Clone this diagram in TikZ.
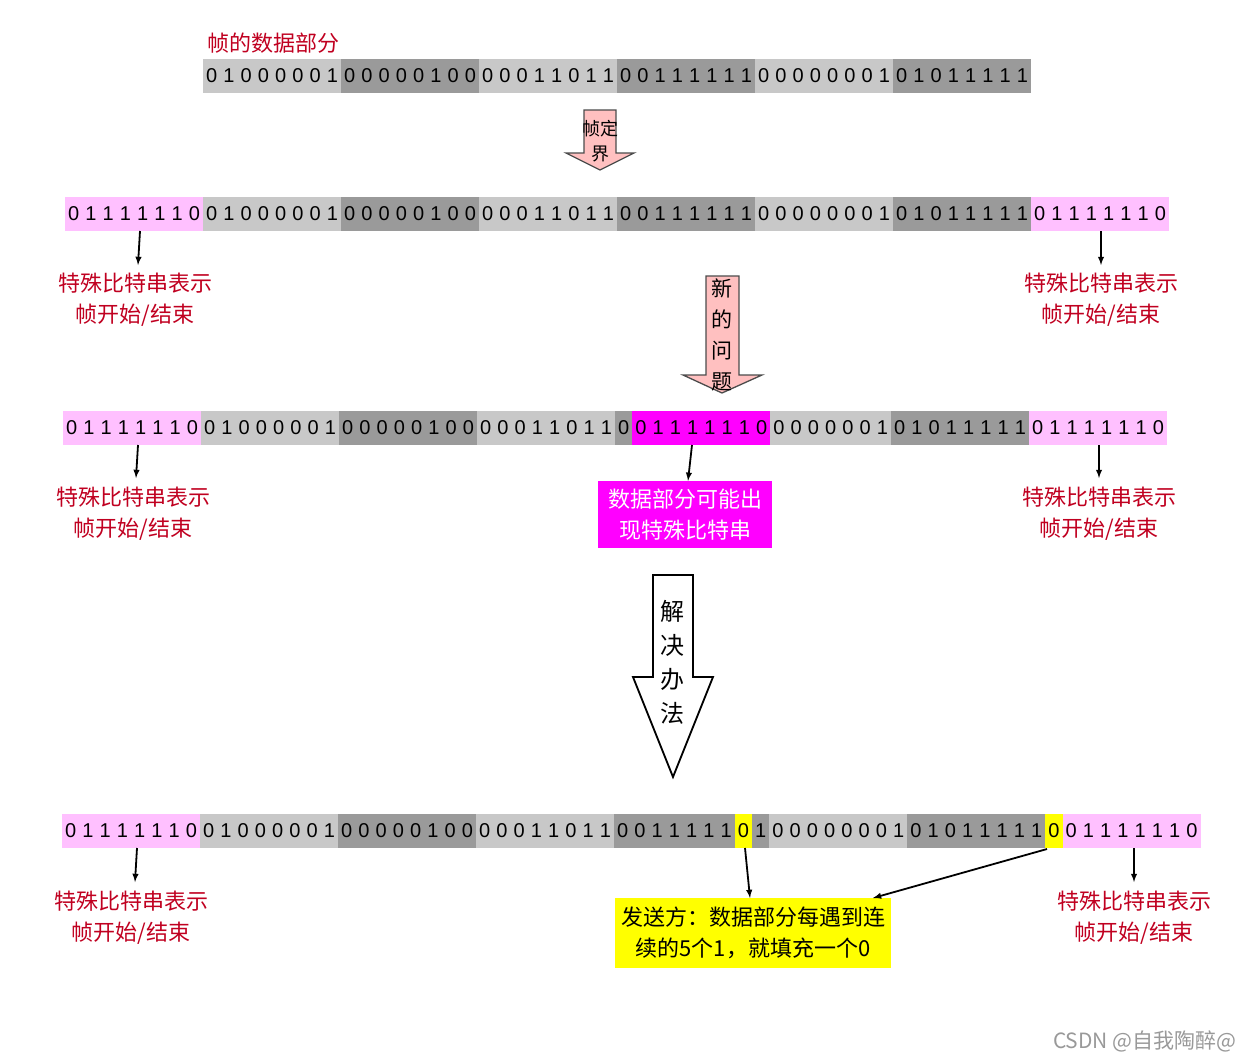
\documentclass[tikz,border=0pt]{standalone}
\usepackage{fontspec}
\setmainfont{Noto Sans CJK SC}
\newfontfamily\bitfont{Liberation Sans}
\begin{document}
\definecolor{lg}{HTML}{C8C8C8}
\definecolor{dg}{HTML}{9A9A9A}
\definecolor{pk}{HTML}{FFC0FF}
\definecolor{mg}{HTML}{FF00FF}
\definecolor{yl}{HTML}{FFFF00}
\definecolor{rd}{HTML}{C00020}
\definecolor{ap}{HTML}{FFC0C0}
\newcounter{nb}
\newcommand{\bitrow}[4]{% x0, y, color, list
  \setcounter{nb}{0}%
  \foreach \b in {#4}{\global\stepcounter{nb}}%
  \fill[#3] (#1,#2-17) rectangle ++({17.25*\value{nb}},34);
  \foreach \b [count=\i] in {#4}{\node[bit] at ({#1+17.25*(\i-0.5)},#2) {\b};}}
\begin{tikzpicture}[x=1pt,y=-1pt,
  bit/.style={font=\bitfont\fontsize{20}{20}\selectfont,inner sep=0pt},
  lab/.style={text=rd,font=\fontsize{22}{31}\selectfont,align=center,inner sep=0pt},
  ar/.style={-latex,line width=1.8pt},
  blk/.style={draw=black!70,fill=ap,line width=1.3pt}]
\useasboundingbox (0,0) rectangle (1244,1060);
% row 1
\node[lab,anchor=west] (title) at (207,43) {帧的数据部分};
\bitrow{203}{76}{lg}{0,1,0,0,0,0,0,1}
\bitrow{341}{76}{dg}{0,0,0,0,0,1,0,0}
\bitrow{479}{76}{lg}{0,0,0,1,1,0,1,1}
\bitrow{617}{76}{dg}{0,0,1,1,1,1,1,1}
\bitrow{755}{76}{lg}{0,0,0,0,0,0,0,1}
\bitrow{893}{76}{dg}{0,1,0,1,1,1,1,1}
% arrow 1
\draw[blk] (584,110) -- (616,110) -- (616,153) -- (634,153) -- (600,170) -- (566,153) -- (584,153) -- cycle;
\node[font=\fontsize{18}{25}\selectfont,align=center] (a1) at (600,141) {帧定\\界};
% row 2
\bitrow{65}{214}{pk}{0,1,1,1,1,1,1,0}
\bitrow{203}{214}{lg}{0,1,0,0,0,0,0,1}
\bitrow{341}{214}{dg}{0,0,0,0,0,1,0,0}
\bitrow{479}{214}{lg}{0,0,0,1,1,0,1,1}
\bitrow{617}{214}{dg}{0,0,1,1,1,1,1,1}
\bitrow{755}{214}{lg}{0,0,0,0,0,0,0,1}
\bitrow{893}{214}{dg}{0,1,0,1,1,1,1,1}
\bitrow{1031}{214}{pk}{0,1,1,1,1,1,1,0}
\node[lab] (l1) at (135,300) {特殊比特串表示\\帧开始/结束};
\node[lab] (l2) at (1101,300) {特殊比特串表示\\帧开始/结束};
\coordinate (s1) at (140,231); \coordinate (s2) at (1101,231);
\draw[ar] (s1) -- (138,265);
\draw[ar] (s2) -- (1101,265);
% arrow 2
\draw[blk] (706,276) -- (739,276) -- (739,375) -- (762,375) -- (722,393) -- (683,375) -- (706,375) -- cycle;
\node[font=\fontsize{21}{31}\selectfont,align=center] (a2) at (722,335) {新\\的\\问\\题};
% row 3
\bitrow{63}{428}{pk}{0,1,1,1,1,1,1,0}
\bitrow{201}{428}{lg}{0,1,0,0,0,0,0,1}
\bitrow{339}{428}{dg}{0,0,0,0,0,1,0,0}
\bitrow{477}{428}{lg}{0,0,0,1,1,0,1,1}
\bitrow{615}{428}{dg}{0}
\bitrow{632.25}{428}{mg}{0,1,1,1,1,1,1,0}
\bitrow{770.25}{428}{lg}{0,0,0,0,0,0,1}
\bitrow{891}{428}{dg}{0,1,0,1,1,1,1,1}
\bitrow{1029}{428}{pk}{0,1,1,1,1,1,1,0}
\node[lab] (l3) at (133,514) {特殊比特串表示\\帧开始/结束};
\node[lab] (l4) at (1099,514) {特殊比特串表示\\帧开始/结束};
\node[fill=mg,text=white,font=\fontsize{22}{31}\selectfont,align=center,minimum width=174,minimum height=67,inner sep=0pt] (m) at (685,514.5) {数据部分可能出\\现特殊比特串};
\coordinate (s3) at (138,445); \coordinate (s4) at (1099,445); \coordinate (s5) at (692,445);
\draw[ar] (s3) -- (136,478);
\draw[ar] (s4) -- (1099,478);
\draw[ar] (s5) -- (m.north -| 688,0);
% arrow 3
\draw[line width=1.8pt,fill=white] (653,575) -- (693,575) -- (693,677) -- (713,677) -- (673,777) -- (633,677) -- (653,677) -- cycle;
\node[font=\fontsize{24}{34}\selectfont,align=center] (a3) at (672,662) {解\\决\\办\\法};
% row 4
\bitrow{62}{831}{pk}{0,1,1,1,1,1,1,0}
\bitrow{200}{831}{lg}{0,1,0,0,0,0,0,1}
\bitrow{338}{831}{dg}{0,0,0,0,0,1,0,0}
\bitrow{476}{831}{lg}{0,0,0,1,1,0,1,1}
\bitrow{614}{831}{dg}{0,0,1,1,1,1,1}
\bitrow{734.75}{831}{yl}{0}
\bitrow{752}{831}{dg}{1}
\bitrow{769.25}{831}{lg}{0,0,0,0,0,0,0,1}
\bitrow{907.25}{831}{dg}{0,1,0,1,1,1,1,1}
\bitrow{1045.25}{831}{yl}{0}
\bitrow{1062.5}{831}{pk}{0,1,1,1,1,1,1,0}
\node[lab] (l5) at (131,918) {特殊比特串表示\\帧开始/结束};
\node[lab] (l6) at (1134,918) {特殊比特串表示\\帧开始/结束};
\node[fill=yl,font=\fontsize{22}{31}\selectfont,align=center,minimum width=276,minimum height=70,inner sep=0pt] (y) at (753,933) {发送方：数据部分每遇到连\\续的5个1，就填充一个0};
\coordinate (s6) at (137,848); \coordinate (s7) at (1134,848);
\coordinate (s8) at (745,848); \coordinate (s9) at (1047,849);
\draw[ar] (s6) -- (135,882);
\draw[ar] (s7) -- (1134,882);
\draw[ar] (s8) -- (750,898);
\draw[ar] (s9) -- (873,898);
\node[text=black!40,font=\fontsize{21}{21}\selectfont,anchor=east] (w) at (1240,1041) {CSDN @自我陶醉@};
\end{tikzpicture}
\end{document}
